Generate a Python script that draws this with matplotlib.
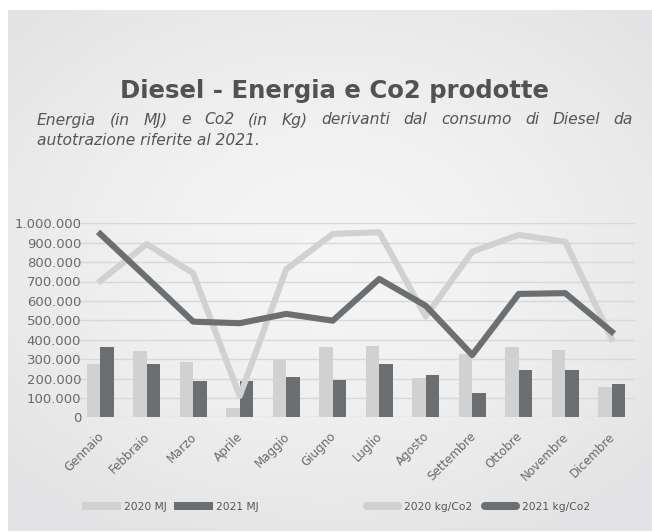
import numpy as np
import matplotlib
matplotlib.use('Agg')
import matplotlib.pyplot as plt
import matplotlib.transforms as mtransforms
from matplotlib.patches import Patch
from matplotlib.lines import Line2D
from matplotlib.ticker import FuncFormatter

# dati
mesi = ['Gennaio', 'Febbraio', 'Marzo', 'Aprile', 'Maggio', 'Giugno',
        'Luglio', 'Agosto', 'Settembre', 'Ottobre', 'Novembre', 'Dicembre']
mj_2020 = [273000, 342000, 287000, 46000, 297000, 362000,
           366000, 203000, 328000, 362000, 347000, 156000]
mj_2021 = [362000, 276000, 189000, 189000, 208000, 192000,
           273000, 216000, 124000, 245000, 245000, 170000]
co2_2020 = [703000, 893000, 742000, 110000, 763000, 945000,
            954000, 520000, 854000, 940000, 905000, 405000]
co2_2021 = [945000, 720000, 493000, 485000, 533000, 498000,
            713000, 575000, 321000, 636000, 640000, 441000]

titolo = 'Diesel - Energia e Co2 prodotte'
sottotitolo = ['Energia (in MJ) e Co2 (in Kg) derivanti dal consumo di Diesel da',
               'autotrazione riferite al 2021.']

W, H = 652, 532
chiaro = '#d1d1d1'
scuro = '#6c6f71'
testo = '#555555'

fig = plt.figure(figsize=(W / 100, H / 100), dpi=100)
fig.patch.set_facecolor('white')

# sfondo grigio sfumato
bg = fig.add_axes([8 / W, 1 / H, 644 / W, 521 / H], zorder=-10)
yy, xx = np.mgrid[0:521, 0:644]
r = np.hypot((xx - 320) / 430, (yy - 240) / 320)
t = np.clip(r, 0, 1) ** 1.5
c_in = np.array([0.962, 0.962, 0.962])
c_out = np.array([0.893, 0.893, 0.9])
bg.imshow(c_in + (c_out - c_in) * t[..., None], aspect='auto')
bg.axis('off')

# titolo e sottotitolo
fig.text(334.5 / W, 1 - 98 / H, titolo, ha='center', va='baseline',
         fontsize=17.6, fontweight='bold', color='#525252')

renderer = fig.canvas.get_renderer()


def giustifica(riga, x0, x1, y, **kw):
    parole = riga.split()
    tt = [fig.text(0, y, p, va='baseline', **kw) for p in parole]
    larg = [tx.get_window_extent(renderer).width for tx in tt]
    spazio = (x1 - x0 - sum(larg)) / (len(parole) - 1)
    x = x0
    for tx, w in zip(tt, larg):
        tx.set_x(x / W)
        x += w + spazio


giustifica(sottotitolo[0], 37, 633, 1 - 124.5 / H, fontsize=11.2,
           style='italic', color=testo)
fig.text(37 / W, 1 - 145 / H, sottotitolo[1], va='baseline', fontsize=11.2,
         style='italic', color=testo)

# grafico
ax = fig.add_axes([77 / W, 1 - 417.3 / H, 558 / W, 194 / H])
ax.set_facecolor('none')
x = np.arange(len(mesi))
ax.bar(x - 0.145, mj_2020, 0.29, color=chiaro, zorder=2)
ax.bar(x + 0.145, mj_2021, 0.29, color=scuro, zorder=2)
ax.plot(x, co2_2020, color=chiaro, lw=4.4, zorder=3, clip_on=False,
        solid_joinstyle='round')
ax.plot(x, co2_2021, color=scuro, lw=4.4, zorder=4, clip_on=False,
        solid_joinstyle='round')

ax.set_xlim(-0.5, 11.5)
ax.set_ylim(0, 1000000)
ax.set_yticks(np.arange(0, 1000001, 100000))
ax.yaxis.set_major_formatter(FuncFormatter(lambda v, p: f'{int(v):,}'.replace(',', '.')))
ax.grid(axis='y', color='#d8d8d8', lw=1)
ax.set_axisbelow(True)
for s in ax.spines.values():
    s.set_visible(False)
ax.tick_params(axis='y', length=0, pad=-3, labelsize=9.5, labelcolor='#6a6a6a')
ax.tick_params(axis='x', length=0, pad=12.5, labelsize=8.6, labelcolor='#6a6a6a')
ax.set_xticks(x)
ax.set_xticklabels(mesi, rotation=45, ha='right', va='center', rotation_mode='anchor')
sposta = mtransforms.ScaledTranslation(1.5 / 100, 0, fig.dpi_scale_trans)
for lab in ax.get_xticklabels():
    lab.set_transform(lab.get_transform() + sposta)

# legende
h1 = [Patch(facecolor=chiaro, label='2020 MJ'), Patch(facecolor=scuro, label='2021 MJ')]
fig.legend(handles=h1, loc='center left', bbox_to_anchor=(82 / W, 1 - 507 / H),
           ncol=2, frameon=False, fontsize=7.7, labelcolor=testo,
           handlelength=3.6, handleheight=0.75, handletextpad=0.3,
           columnspacing=0.75, borderpad=0, borderaxespad=0)
h2 = [Line2D([], [], color=chiaro, lw=5.8, solid_capstyle='round', label='2020 kg/Co2'),
      Line2D([], [], color=scuro, lw=5.8, solid_capstyle='round', label='2021 kg/Co2')]
fig.legend(handles=h2, loc='center left', bbox_to_anchor=(367 / W, 1 - 507 / H),
           ncol=2, frameon=False, fontsize=7.7, labelcolor=testo,
           handlelength=2.9, handletextpad=0.55,
           columnspacing=1.2, borderpad=0, borderaxespad=0)

fig.savefig('out.png', dpi=100, facecolor=fig.get_facecolor())
